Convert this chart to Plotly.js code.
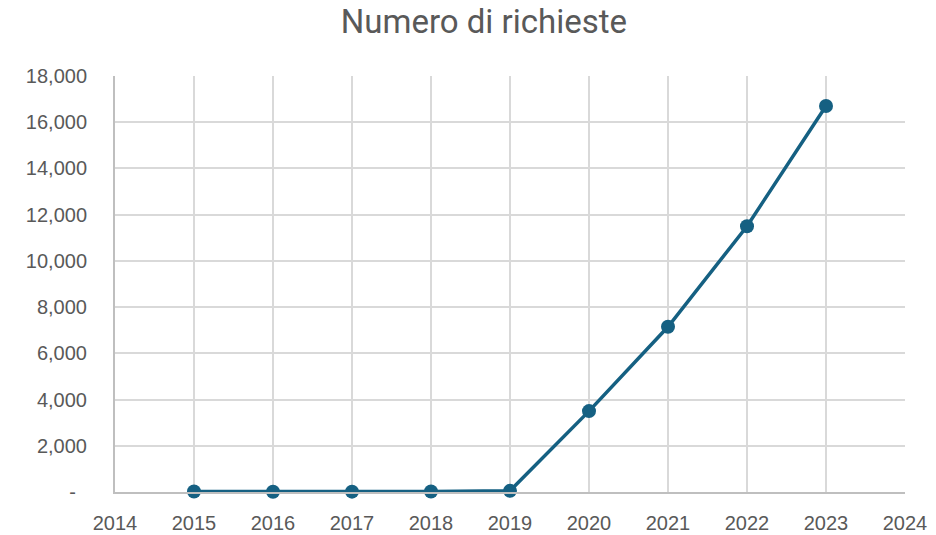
<!DOCTYPE html>
<html>
<head>
<meta charset="utf-8">
<script src="https://cdn.plot.ly/plotly-3.0.1.min.js"></script>
<style>html,body{margin:0;padding:0;background:#fff;}#chart{width:936px;height:535px;}</style>
</head>
<body>
<div id="chart"></div>
<script>
const years = [2015, 2016, 2017, 2018, 2019, 2020, 2021, 2022, 2023];
const requests = [20, 10, 15, 20, 50, 3500, 7150, 11500, 16700];
const yTickVals = [0, 2000, 4000, 6000, 8000, 10000, 12000, 14000, 16000, 18000];
const yTickText = ['-\u00a0\u00a0', '2,000', '4,000', '6,000', '8,000', '10,000', '12,000', '14,000', '16,000', '18,000'];
const xTickVals = [2014, 2015, 2016, 2017, 2018, 2019, 2020, 2021, 2022, 2023, 2024];

const trace = {
  x: years, y: requests, type: 'scatter', mode: 'lines+markers',
  line: {color: '#156082', width: 3.5},
  marker: {color: '#156082', size: 14},
  cliponaxis: false,
  hoverinfo: 'x+y'
};
const layout = {
  width: 936, height: 535,
  margin: {l: 115, r: 31, t: 76, b: 43},
  paper_bgcolor: '#fff', plot_bgcolor: '#fff',
  showlegend: false,
  title: {text: 'Numero di richieste', x: 0.517, xanchor: 'center', y: 0.96, yanchor: 'middle',
    font: {family: 'Roboto, sans-serif', size: 33, color: '#595959'}},
  xaxis: {
    range: [2014, 2024], tickvals: xTickVals, ticktext: xTickVals.map(String),
    showgrid: true, gridcolor: '#d9d9d9', gridwidth: 2,
    showline: true, linecolor: '#bfbfbf', linewidth: 2,
    zeroline: false, ticks: '', ticklabelstandoff: 12,
    tickfont: {family: 'Liberation Sans, Arial, sans-serif', size: 20, color: '#595959'}
  },
  yaxis: {
    range: [0, 18000], tickvals: yTickVals, ticktext: yTickText,
    showgrid: true, gridcolor: '#d9d9d9', gridwidth: 2,
    showline: true, linecolor: '#bfbfbf', linewidth: 2,
    zeroline: false, ticks: '', ticklabelstandoff: 22,
    tickfont: {family: 'Liberation Sans, Arial, sans-serif', size: 20, color: '#595959'}
  }
};
Plotly.newPlot('chart', [trace], layout, {displayModeBar: false, staticPlot: true});
</script>
</body>
</html>
